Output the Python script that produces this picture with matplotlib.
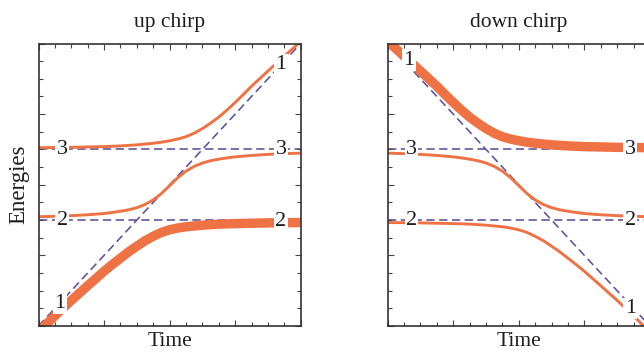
import matplotlib
matplotlib.use("Agg")
import matplotlib.pyplot as plt
from matplotlib.ticker import MultipleLocator, NullFormatter

# ---------------- data ----------------
panel_titles = ["up chirp", "down chirp"]
x_label = "Time"
y_label = "Energies"

# diabatic (dashed) levels: level 2, level 3 constant; level 1 linear
level2 = 6.0
level3 = 10.0
up_diag_t = [0, 16]
up_diag_e = [0, 16]
down_diag_t = [0, 16]
down_diag_e = [16, 0]

# ---- up chirp adiabatic curves ----
up_top_t = [0, 1, 2, 3, 4, 5, 6, 7, 7.5, 8, 8.5, 9, 9.5, 10, 10.5, 11, 11.5, 12, 12.5, 13, 14, 15, 16]
up_top_e = [10.10, 10.11, 10.12, 10.14, 10.16, 10.20, 10.26, 10.35, 10.41, 10.49, 10.59, 10.72, 10.92,
            11.18, 11.49, 11.83, 12.23, 12.66, 13.11, 13.58, 14.44, 15.28, 16.12]

up_mid_t = [0, 1, 2, 3, 4, 4.5, 5, 5.5, 6, 6.5, 7, 7.5, 8, 8.5, 9, 9.5, 10, 10.5, 11, 11.5, 12, 13, 14, 15, 16]
up_mid_e = [6.19, 6.21, 6.25, 6.30, 6.37, 6.43, 6.50, 6.58, 6.70, 6.88, 7.14, 7.50, 7.95, 8.40, 8.77,
            9.04, 9.23, 9.36, 9.45, 9.52, 9.58, 9.66, 9.72, 9.76, 9.79]

up_low_t = [0, 1, 2, 3, 4, 4.5, 5, 5.5, 6, 6.5, 7, 7.5, 8, 8.5, 9, 10, 11, 12, 13, 14, 15, 16]
up_low_e = [-0.36, 0.58, 1.45, 2.28, 3.10, 3.48, 3.84, 4.20, 4.52, 4.83, 5.08, 5.30, 5.45, 5.55, 5.62,
            5.71, 5.77, 5.80, 5.82, 5.84, 5.85, 5.86]

# ---- down chirp adiabatic curves ----
down_top_t = [0, 1, 2, 3, 3.5, 4, 4.5, 5, 5.5, 6, 6.5, 7, 7.5, 8, 8.5, 9, 10, 11, 12, 13, 14, 15, 16]
down_top_e = [16.12, 15.28, 14.44, 13.58, 13.11, 12.66, 12.23, 11.83, 11.49, 11.18, 10.92, 10.72,
              10.59, 10.49, 10.41, 10.35, 10.26, 10.20, 10.16, 10.14, 10.12, 10.11, 10.10]

down_mid_t = [0, 1, 2, 3, 4, 4.5, 5, 5.5, 6, 6.5, 7, 7.5, 8, 8.5, 9, 9.5, 10, 10.5, 11, 11.5, 12, 13, 14, 15, 16]
down_mid_e = [9.79, 9.76, 9.72, 9.66, 9.58, 9.52, 9.45, 9.36, 9.23, 9.04, 8.77, 8.40, 7.95, 7.50, 7.14,
              6.88, 6.70, 6.58, 6.50, 6.43, 6.37, 6.30, 6.25, 6.21, 6.19]

down_low_t = [0, 1, 2, 3, 4, 5, 6, 7, 7.5, 8, 8.5, 9, 9.5, 10, 10.5, 11, 11.5, 12, 13, 14, 15, 16]
down_low_e = [5.86, 5.85, 5.84, 5.82, 5.80, 5.77, 5.71, 5.62, 5.55, 5.45, 5.30, 5.08, 4.83, 4.52, 4.20,
              3.84, 3.48, 3.10, 2.28, 1.45, 0.58, -0.36]

# curve labels: text, time, energy
up_label_text = ["3", "3", "1", "2", "2", "1"]
up_label_t = [1.45, 14.8, 14.8, 1.45, 14.8, 1.3]
up_label_e = [10.0, 10.0, 14.8, 6.0, 5.93, 1.3]

down_label_text = ["1", "3", "3", "2", "2", "1"]
down_label_t = [1.3, 1.45, 14.8, 1.45, 14.8, 14.8]
down_label_e = [15.05, 10.0, 10.0, 6.0, 6.0, 1.0]

# ---------------- styling ----------------
ORANGE = "#EF7244"
PURPLE = "#5E4F99"
FRAME = "#333333"
TEXT = "#1E1E1E"
FONT = "Liberation Serif"
THIN = 2.1
THICK = 6.8

plt.rcParams["font.family"] = [FONT, "DejaVu Serif"]

fig = plt.figure(figsize=(6.44, 3.53), dpi=100)
W, H = 644.0, 353.0
ax_up = fig.add_axes([38.5 / W, 27 / H, 262.2 / W, 282.5 / H])
ax_dn = fig.add_axes([387.7 / W, 27 / H, 262.2 / W, 282.5 / H])


def style_axes(ax):
    ax.set_xlim(0, 16)
    ax.set_ylim(0, 16)
    for s in ax.spines.values():
        s.set_color(FRAME)
        s.set_linewidth(1.2)
    for axis in (ax.xaxis, ax.yaxis):
        axis.set_major_locator(MultipleLocator(4))
        axis.set_minor_locator(MultipleLocator(1))
        axis.set_major_formatter(NullFormatter())
        axis.set_minor_formatter(NullFormatter())
    ax.tick_params(which="both", direction="in", top=True, right=True,
                   color="#444444", width=0.8)
    ax.tick_params(which="major", length=4.6)
    ax.tick_params(which="minor", length=2.8)


def dashed(ax, t, e):
    ln, = ax.plot(t, e, color=PURPLE, lw=1.15, zorder=1)
    ln.set_dashes((5.2, 2.8))


def curve(ax, t, e, lw):
    ax.plot(t, e, color=ORANGE, lw=lw, zorder=2, solid_capstyle="butt",
            solid_joinstyle="round")


def labels(ax, texts, ts, es):
    for s, t, e in zip(texts, ts, es):
        ax.text(t, e, s, ha="center", va="center", fontsize=16, color=TEXT,
                zorder=5, bbox=dict(boxstyle="square,pad=0.06", fc="white", ec="none"))


for ax in (ax_up, ax_dn):
    style_axes(ax)
    dashed(ax, [0, 16], [level2, level2])
    dashed(ax, [0, 16], [level3, level3])

dashed(ax_up, up_diag_t, up_diag_e)
dashed(ax_dn, down_diag_t, down_diag_e)

curve(ax_up, up_top_t, up_top_e, THIN)
curve(ax_up, up_mid_t, up_mid_e, THIN)
curve(ax_up, up_low_t, up_low_e, THICK)

curve(ax_dn, down_top_t, down_top_e, THICK)
curve(ax_dn, down_mid_t, down_mid_e, THIN)
curve(ax_dn, down_low_t, down_low_e, THIN)

labels(ax_up, up_label_text, up_label_t, up_label_e)
labels(ax_dn, down_label_text, down_label_t, down_label_e)

for ax, title in zip((ax_up, ax_dn), panel_titles):
    ax.set_title(title, fontsize=15.5, pad=12, color=TEXT)
    ax.set_xlabel(x_label, fontsize=15.5, labelpad=1.0, color=TEXT)
ax_up.set_ylabel(y_label, fontsize=16.5, labelpad=3, color=TEXT)

fig.savefig("out.png", dpi=100)
